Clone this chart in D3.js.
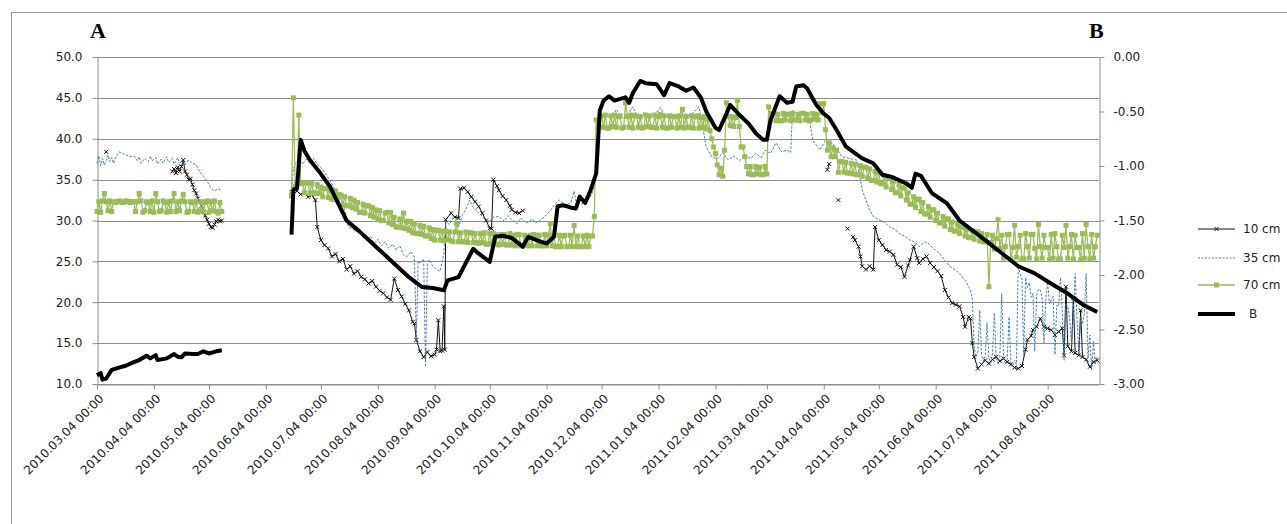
<!DOCTYPE html>
<html><head><meta charset="utf-8">
<script src="https://cdn.jsdelivr.net/npm/d3@7"></script>
<style>
html,body{margin:0;padding:0;background:#fff;}
svg{display:block;}
</style></head>
<body>
<svg id="chart" width="1287" height="524"></svg>
<script>
// ---------------- DATA ----------------
const leftTicks = [10,15,20,25,30,35,40,45,50];
const rightTicks = [-3,-2.5,-2,-1.5,-1,-0.5,0];
const xTickLabels = ["2010.03.04 00:00","2010.04.04 00:00","2010.05.04 00:00","2010.06.04 00:00","2010.07.04 00:00","2010.08.04 00:00","2010.09.04 00:00","2010.10.04 00:00","2010.11.04 00:00","2010.12.04 00:00","2011.01.04 00:00","2011.02.04 00:00","2011.03.04 00:00","2011.04.04 00:00","2011.05.04 00:00","2011.06.04 00:00","2011.07.04 00:00","2011.08.04 00:00"];
const seriesNames = ["10 cm","35 cm","70 cm","B"];

// 10 cm soil water content (%), [date, value]; null = gap
const cm10 = [
["2010-03-09",38.4],["2010-03-10",null],
["2010-04-14",36.0],["2010-04-15",36.3],["2010-04-16",35.8],["2010-04-17",36.5],["2010-04-18",36.0],["2010-04-19",36.6],["2010-04-20",37.4],["2010-04-21",36.0],["2010-04-22",35.6],["2010-04-23",35.0],["2010-04-24",35.1],["2010-04-25",34.4],["2010-04-26",33.7],["2010-04-27",33.3],["2010-04-28",32.7],["2010-04-29",32.3],["2010-04-30",31.8],["2010-05-01",31.1],["2010-05-02",30.6],["2010-05-03",30.1],["2010-05-04",29.6],["2010-05-05",29.2],["2010-05-06",29.1],["2010-05-07",29.5],["2010-05-08",29.9],["2010-05-09",30.1],["2010-05-10",29.9],["2010-05-11",30.0],["2010-05-12",null],
["2010-06-18",33.5],["2010-06-19",33.9],["2010-06-21",33.6],["2010-06-23",33.2],["2010-06-25",33.4],["2010-06-27",32.9],["2010-06-29",33.1],["2010-07-01",32.5],["2010-07-02",29.2],["2010-07-04",27.6],["2010-07-06",27.0],["2010-07-08",26.6],["2010-07-10",25.6],["2010-07-12",25.9],["2010-07-14",25.0],["2010-07-16",25.3],["2010-07-18",24.0],["2010-07-20",24.4],["2010-07-22",23.5],["2010-07-24",23.8],["2010-07-26",23.1],["2010-07-28",22.8],["2010-07-30",22.3],["2010-08-01",22.6],["2010-08-03",21.9],["2010-08-05",21.4],["2010-08-07",21.1],["2010-08-09",20.6],["2010-08-11",20.3],["2010-08-13",22.9],["2010-08-15",21.5],["2010-08-17",20.7],["2010-08-19",19.8],["2010-08-21",19.0],["2010-08-23",17.6],["2010-08-24",17.4],["2010-08-25",15.4],["2010-08-27",14.0],["2010-08-29",13.3],["2010-08-31",13.9],["2010-09-02",13.4],["2010-09-04",13.6],["2010-09-05",14.2],["2010-09-06",17.8],["2010-09-07",14.0],["2010-09-08",14.1],["2010-09-09",19.5],["2010-09-09 12:00",14.2],["2010-09-10",30.1],["2010-09-13",30.9],["2010-09-15",30.4],["2010-09-17",30.3],["2010-09-18",33.9],["2010-09-20",34.0],["2010-09-22",33.5],["2010-09-24",32.9],["2010-09-26",32.3],["2010-09-28",31.7],["2010-09-30",30.9],["2010-10-02",30.0],["2010-10-04",29.05],["2010-10-05",29.0],["2010-10-06",35.0],["2010-10-08",34.2],["2010-10-09",33.7],["2010-10-11",33.0],["2010-10-13",32.5],["2010-10-15",31.8],["2010-10-16",31.3],["2010-10-18",31.0],["2010-10-20",30.9],["2010-10-22",31.2],["2010-10-23",null],
["2011-04-06",36.2],["2011-04-07",36.9],["2011-04-08",null],["2011-04-12",32.5],["2011-04-13",null],["2011-04-17",29.0],["2011-04-18",null],
["2011-04-20",28.0],["2011-04-21",27.6],["2011-04-23",26.8],["2011-04-24",25.6],["2011-04-25",24.4],["2011-04-27",24.0],["2011-04-29",24.4],["2011-05-01",24.0],["2011-05-02",29.2],["2011-05-04",27.6],["2011-05-06",27.0],["2011-05-08",26.4],["2011-05-10",26.2],["2011-05-12",25.8],["2011-05-14",24.6],["2011-05-16",24.3],["2011-05-18",23.1],["2011-05-20",24.5],["2011-05-21",25.2],["2011-05-23",26.8],["2011-05-25",25.4],["2011-05-26",24.8],["2011-05-28",25.3],["2011-05-30",25.6],["2011-06-01",24.8],["2011-06-03",24.3],["2011-06-05",23.8],["2011-06-07",23.2],["2011-06-09",21.5],["2011-06-11",20.6],["2011-06-13",19.9],["2011-06-15",19.7],["2011-06-17",19.5],["2011-06-19",18.2],["2011-06-20",17.0],["2011-06-22",18.2],["2011-06-23",18.0],["2011-06-24",15.0],["2011-06-25",13.3],["2011-06-27",11.9],["2011-06-29",12.4],["2011-07-01",12.9],["2011-07-03",12.5],["2011-07-05",13.0],["2011-07-07",13.3],["2011-07-09",12.8],["2011-07-11",13.1],["2011-07-13",12.7],["2011-07-15",12.4],["2011-07-17",12.0],["2011-07-19",11.9],["2011-07-21",12.2],["2011-07-23",14.2],["2011-07-24",15.4],["2011-07-26",15.9],["2011-07-27",16.6],["2011-07-29",17.0],["2011-07-31",18.0],["2011-08-02",17.0],["2011-08-04",16.8],["2011-08-06",16.6],["2011-08-08",16.0],["2011-08-10",16.4],["2011-08-12",16.8],["2011-08-13",13.5],["2011-08-14",21.9],["2011-08-15",14.6],["2011-08-17",14.0],["2011-08-18",20.5],["2011-08-19",13.8],["2011-08-21",13.5],["2011-08-22",19.0],["2011-08-23",13.3],["2011-08-25",13.0],["2011-08-27",12.1],["2011-08-29",12.7],["2011-08-31",12.9]
];

// 35 cm, [date, value]
const cm35 = [
["2010-03-04",37.0],["2010-03-05",37.9],["2010-03-06",36.7],["2010-03-07",37.6],["2010-03-08",36.8],["2010-03-09",37.3],["2010-03-10",38.0],["2010-03-11",37.2],["2010-03-12",37.7],["2010-03-13",37.0],["2010-03-14",37.6],["2010-03-16",38.4],["2010-03-18",38.2],["2010-03-20",38.0],["2010-03-22",37.8],["2010-03-24",37.9],["2010-03-26",37.3],["2010-03-27",37.8],["2010-03-28",37.0],["2010-03-30",37.6],["2010-04-01",37.2],["2010-04-02",37.9],["2010-04-03",37.3],["2010-04-05",37.7],["2010-04-06",36.9],["2010-04-08",37.5],["2010-04-09",37.0],["2010-04-11",37.8],["2010-04-12",37.1],["2010-04-14",37.6],["2010-04-15",36.9],["2010-04-17",37.7],["2010-04-18",37.0],["2010-04-20",37.5],["2010-04-21",36.8],["2010-04-23",37.4],["2010-04-25",37.0],["2010-04-27",36.8],["2010-04-29",36.0],["2010-05-01",35.4],["2010-05-03",34.8],["2010-05-05",34.0],["2010-05-07",33.6],["2010-05-09",33.9],["2010-05-11",33.6],["2010-05-12",null],
["2010-06-18",34.0],["2010-06-19",36.2],["2010-06-20",37.0],["2010-06-22",37.4],["2010-06-24",36.9],["2010-06-26",37.5],["2010-06-28",37.0],["2010-06-30",37.6],["2010-07-02",36.9],["2010-07-04",36.5],["2010-07-06",35.9],["2010-07-08",35.2],["2010-07-10",34.5],["2010-07-12",33.6],["2010-07-14",32.9],["2010-07-16",32.1],["2010-07-18",30.2],["2010-07-19",29.2],["2010-07-21",29.0],["2010-07-23",28.6],["2010-07-25",28.9],["2010-07-27",27.9],["2010-07-29",27.6],["2010-07-31",28.1],["2010-08-02",27.2],["2010-08-04",27.7],["2010-08-06",26.9],["2010-08-08",27.4],["2010-08-10",26.6],["2010-08-12",27.1],["2010-08-14",26.4],["2010-08-16",26.9],["2010-08-18",25.8],["2010-08-20",25.6],["2010-08-22",26.2],["2010-08-24",25.5],["2010-08-25",15.4],["2010-08-26",25.0],["2010-08-27",24.8],["2010-08-29",25.3],["2010-08-30",12.1],["2010-08-31",24.6],["2010-09-01",25.2],["2010-09-03",24.4],["2010-09-05",24.0],["2010-09-07",23.8],["2010-09-08",24.9],["2010-09-09",26.0],["2010-09-10",29.9],["2010-09-12",29.5],["2010-09-14",30.3],["2010-09-16",29.9],["2010-09-17",29.2],["2010-09-19",30.6],["2010-09-21",31.4],["2010-09-23",32.5],["2010-09-25",31.6],["2010-09-28",30.9],["2010-10-01",30.3],["2010-10-04",29.9],["2010-10-06",30.4],["2010-10-09",30.5],["2010-10-12",29.9],["2010-10-14",30.6],["2010-10-16",30.1],["2010-10-19",29.6],["2010-10-21",30.3],["2010-10-24",29.65],["2010-10-27",30.2],["2010-10-29",29.7],["2010-10-31",29.9],["2010-11-03",30.5],["2010-11-06",31.2],["2010-11-09",32.1],["2010-11-11",32.5],["2010-11-14",31.9],["2010-11-17",32.1],["2010-11-19",33.6],["2010-11-20",32.3],["2010-11-23",32.0],["2010-11-25",32.2],["2010-11-27",32.6],["2010-11-29",33.4],["2010-12-01",35.8],["2010-12-03",42.7],["2010-12-06",43.1],["2010-12-09",42.4],["2010-12-12",43.6],["2010-12-15",42.5],["2010-12-18",42.9],["2010-12-21",43.9],["2010-12-24",42.6],["2010-12-27",43.2],["2010-12-30",42.4],["2011-01-02",43.0],["2011-01-05",43.8],["2011-01-08",42.7],["2011-01-11",43.1],["2011-01-14",42.5],["2011-01-17",43.5],["2011-01-20",42.8],["2011-01-23",43.2],["2011-01-26",43.9],["2011-01-28",41.5],["2011-01-30",39.0],["2011-02-02",37.8],["2011-02-05",37.5],["2011-02-08",38.3],["2011-02-11",37.4],["2011-02-14",37.9],["2011-02-17",37.3],["2011-02-20",38.0],["2011-02-23",37.6],["2011-02-26",38.2],["2011-03-01",37.7],["2011-03-03",38.6],["2011-03-06",38.2],["2011-03-09",39.5],["2011-03-12",38.4],["2011-03-15",38.6],["2011-03-17",38.3],["2011-03-18",43.5],["2011-03-21",43.0],["2011-03-24",43.3],["2011-03-27",42.8],["2011-03-29",39.8],["2011-04-02",38.6],["2011-04-05",39.85],["2011-04-09",39.4],["2011-04-14",37.8],["2011-04-18",37.6],["2011-04-22",37.4],["2011-04-25",33.7],["2011-04-29",31.3],["2011-05-01",30.5],["2011-05-04",30.1],["2011-05-07",29.8],["2011-05-10",29.2],["2011-05-13",28.9],["2011-05-15",28.4],["2011-05-18",28.1],["2011-05-21",27.6],["2011-05-24",27.3],["2011-05-26",26.8],["2011-05-29",27.4],["2011-05-31",27.2],["2011-06-03",26.5],["2011-06-06",26.0],["2011-06-09",25.1],["2011-06-12",24.35],["2011-06-15",23.9],["2011-06-17",23.5],["2011-06-20",22.7],["2011-06-23",21.5],["2011-06-24",20.3],["2011-06-25",14.5],["2011-06-26",13.3],["2011-06-27",13.9],["2011-06-28",19.0],["2011-06-29",13.6],["2011-06-30",12.8],["2011-07-01",13.5],["2011-07-02",17.5],["2011-07-03",13.2],["2011-07-04",12.6],["2011-07-05",13.8],["2011-07-06",18.7],["2011-07-07",13.1],["2011-07-08",12.5],["2011-07-09",13.4],["2011-07-10",21.1],["2011-07-11",13.3],["2011-07-12",12.4],["2011-07-13",13.0],["2011-07-14",18.2],["2011-07-15",12.6],["2011-07-16",12.3],["2011-07-17",12.9],["2011-07-18",12.4],["2011-07-19",24.4],["2011-07-20",23.5],["2011-07-21",22.8],["2011-07-22",13.5],["2011-07-23",23.0],["2011-07-24",21.8],["2011-07-25",22.4],["2011-07-26",20.6],["2011-07-27",21.1],["2011-07-28",14.0],["2011-07-29",20.8],["2011-07-30",21.6],["2011-07-31",21.5],["2011-08-01",20.6],["2011-08-02",15.0],["2011-08-03",20.3],["2011-08-04",22.5],["2011-08-05",19.8],["2011-08-06",20.3],["2011-08-07",20.7],["2011-08-08",13.6],["2011-08-09",19.6],["2011-08-10",19.5],["2011-08-11",23.0],["2011-08-12",18.8],["2011-08-13",12.9],["2011-08-14",19.9],["2011-08-15",19.5],["2011-08-16",18.0],["2011-08-17",14.8],["2011-08-18",18.5],["2011-08-19",23.5],["2011-08-20",17.9],["2011-08-21",14.0],["2011-08-22",18.2],["2011-08-23",17.4],["2011-08-24",18.6],["2011-08-25",23.5],["2011-08-26",13.2],["2011-08-27",16.0],["2011-08-28",11.7],["2011-08-29",15.2],["2011-08-30",12.5],["2011-08-31",13.3]
];

// 70 cm: daily readings, each block = [first date, consecutive daily values]; null = gap
const cm70 = [
["2010-03-04",[31.1,32.3,31.0,32.4,33.3,32.3,31.2,32.4,31.1,32.3,32.2, 32.3,32.4,32.3,32.2,32.3,32.4,32.3,32.2,32.3,32.3, 31.1,32.3,33.3,32.4,31.0,31.2,32.3,32.2,31.1,32.4, 31.0,33.3,32.3,31.1,31.2,32.4,32.2,31.0,32.3,31.1, 32.4,33.3,31.1,32.3,31.2,32.4,33.2,32.3,31.0,31.1, 32.3,32.2,31.1,32.4,31.0,31.2,32.3,31.1,32.2,32.4, 31.0,32.3,31.2,32.4,31.1,30.9,32.2,31.1,null]],
["2010-06-18",[33.0,45.0,34.2,34.6,42.9,34.5]],
["2010-06-24",[34.6,33.4,34.6,34.6,33.3,34.5,33.4,33.3,34.4,33.3]],
["2010-07-04",[34.1,32.9,33.9,33.9,32.8,33.7,32.6,32.6,33.6,32.5]],
["2010-07-14",[33.2,33.1,31.9,32.9,31.8,31.8,32.7,31.6,32.5,31.4]],
["2010-07-24",[32.2,31.0,31.0,32.0,30.9,31.8,31.8,30.6,31.6,30.4]],
["2010-08-03",[31.3,30.1,31.2,30.0,30.0,30.9,31.0,29.7,31.0,29.5]],
["2010-08-13",[30.4,29.2,29.2,30.2,29.1,30.9,29.0,29.9,28.8,29.9]],
["2010-08-23",[28.5,29.6,28.4,28.4,29.4,28.3,29.3,28.1,28.1,29.1]],
["2010-09-02",[27.8,28.9,27.6,28.8,28.8,27.6,28.7,27.5,28.7,27.6]],
["2010-09-12",[28.6,27.5,27.4,28.6,29.6,27.4,28.5,27.4,27.4,28.6]],
["2010-09-22",[27.3,28.5,28.5,27.3,28.4,27.3,27.2,28.4,27.3,28.5]],
["2010-10-02",[27.1,27.1,28.4,27.2,28.4,28.3,27.1,27.0,28.3,27.1]],
["2010-10-12",[28.3,27.0,27.0,28.4,27.0,28.2,26.9,28.3,28.3,26.9]],
["2010-10-22",[26.9,28.2,27.0,26.9,28.2,26.9,28.3,28.2,26.9,28.2]],
["2010-11-01",[26.9,26.9,28.3,26.9,28.2,29.6,26.9,28.2,26.8,26.8]],
["2010-11-11",[28.2,26.8,28.1,28.2,26.8,26.8,28.2,26.8,29.4,26.8]],
["2010-11-21",[28.1,26.8,26.8,28.1,26.8,28.2,26.8,28.1,28.1,30.5]],
["2010-12-01",[42.3,41.4,42.8,42.8,41.4,42.9,41.3,41.3,42.8,41.5]],
["2010-12-11",[42.9,41.4,42.7,42.8,41.3,41.4,44.4,42.7,41.4,42.9]],
["2010-12-21",[41.3,42.8,42.8,41.4,42.7,41.3,41.4,42.9,41.5,42.8]],
["2010-12-31",[41.4,41.4,42.9,41.3,42.7,43.0,41.4,42.8,41.3,41.3]],
["2011-01-10",[42.8,41.4,42.7,42.7,41.3,42.8,41.4,43.6,41.3,42.7]],
["2011-01-20",[41.4,41.4,42.8,41.3,42.7,42.8,41.3,42.6,41.4,42.7]],
["2011-01-30",[41.2,42.4,41.0,40.0,39.0,38.2,36.8,35.6,36.4,35.4,38.6,44.4,42.7]],
["2011-02-12",[41.6,42.7,41.5,42.6,44.7,41.5,39.0]],
["2011-02-19",[39.0,37.8,36.6,35.7,36.6,35.6,35.6,36.6,35.7,36.5,35.6,35.6,36.6,35.7]],
["2011-03-05",[43.9,42.3,43.1,43.1,42.2,43.0,42.2,42.2,43.1,42.3,43.0,43.0,42.2,43.1,42.3,42.3,43.0,42.2,43.1,43.1,42.3,43.0,42.2,42.3,43.1,42.4,43.0,42.3]],
["2011-04-02",[44.3,43.2,44.3,41.1,38.6,39.5,37.8,38.9,37.8,38.6]],
["2011-04-12",[35.9,37.2,37.2,35.9,37.1,35.8,35.8,37.0,35.7,36.9]],
["2011-04-22",[35.6,35.6,36.7,35.4,36.5,36.5,35.2,36.3,34.9,34.9]],
["2011-05-02",[36.0,34.7,35.8,34.5,34.5,35.5,34.1,35.2,35.2,33.8]],
["2011-05-12",[34.8,33.4,33.4,34.4,33.0,34.0,34.0,32.5,33.4,32.0]],
["2011-05-22",[32.0,32.9,31.6,32.6,32.6,31.1,32.2,30.8,30.8,31.7]],
["2011-06-01",[30.4,31.3,31.3,30.0,30.9,29.7,29.7,30.5,29.3,30.2]],
["2011-06-11",[30.2,28.9,29.8,28.7,28.7,29.5,28.4,29.2,29.2,28.1]],
["2011-06-21",[28.9,27.9,27.9,28.7,27.7,28.6,28.6,27.5,28.4,27.4]],
["2011-07-01",[27.4,28.3,21.9,27.3,28.2,26.5,27.8,30.1]],
["2011-07-09",[26.6,28.2,25.4,26.8,28.3,28.3,25.3,26.7,29.4,25.5]],
["2011-07-19",[26.8,28.2,25.3,25.3,28.4,26.8,25.4,28.3,28.3,26.6]],
["2011-07-29",[25.3,29.5,26.8,25.4,28.2,26.7,26.7,25.2,28.3,25.4]],
["2011-08-08",[28.4,26.8,25.3,25.3,28.2,26.7,29.4,25.4,26.8,28.3]],
["2011-08-18",[25.3,28.2,26.7,26.7,25.2,28.4,25.4,29.5,26.8,25.3]],
["2011-08-28",[28.3,25.4,26.8,28.2]]
];

// B (right axis), [date, value]
const seriesB = [
["2010-03-04",-2.92],["2010-03-06",-2.90],["2010-03-07",-2.96],["2010-03-09",-2.95],["2010-03-12",-2.87],["2010-03-14",-2.86],["2010-03-16",-2.85],["2010-03-20",-2.83],["2010-03-24",-2.80],["2010-03-27",-2.78],["2010-03-31",-2.74],["2010-04-02",-2.765],["2010-04-05",-2.735],["2010-04-06",-2.78],["2010-04-11",-2.765],["2010-04-15",-2.725],["2010-04-17",-2.75],["2010-04-19",-2.755],["2010-04-21",-2.72],["2010-04-25",-2.725],["2010-04-28",-2.725],["2010-05-01",-2.70],["2010-05-04",-2.72],["2010-05-08",-2.70],["2010-05-11",-2.69],["2010-05-12",null],
["2010-06-18",-1.63],["2010-06-19",-1.22],["2010-06-21",-1.20],["2010-06-23",-0.76],["2010-06-25",-0.86],["2010-06-28",-0.945],["2010-07-03",-1.05],["2010-07-09",-1.19],["2010-07-13",-1.33],["2010-07-18",-1.50],["2010-07-25",-1.60],["2010-08-03",-1.74],["2010-08-12",-1.88],["2010-08-21",-2.02],["2010-08-28",-2.11],["2010-09-03",-2.12],["2010-09-09",-2.14],["2010-09-11",-2.05],["2010-09-17",-2.02],["2010-09-20",-1.92],["2010-09-25",-1.76],["2010-09-27",-1.79],["2010-10-04",-1.88],["2010-10-07",-1.65],["2010-10-11",-1.64],["2010-10-16",-1.66],["2010-10-22",-1.74],["2010-10-25",-1.65],["2010-10-31",-1.69],["2010-11-04",-1.71],["2010-11-08",-1.65],["2010-11-10",-1.37],["2010-11-13",-1.36],["2010-11-17",-1.38],["2010-11-20",-1.39],["2010-11-22",-1.28],["2010-11-25",-1.34],["2010-11-28",-1.22],["2010-12-01",-1.07],["2010-12-03",-0.49],["2010-12-05",-0.40],["2010-12-08",-0.36],["2010-12-11",-0.40],["2010-12-15",-0.38],["2010-12-17",-0.37],["2010-12-19",-0.42],["2010-12-21",-0.33],["2010-12-25",-0.22],["2010-12-28",-0.24],["2011-01-03",-0.25],["2011-01-07",-0.35],["2011-01-10",-0.24],["2011-01-15",-0.27],["2011-01-19",-0.31],["2011-01-23",-0.28],["2011-01-27",-0.37],["2011-01-30",-0.50],["2011-02-04",-0.65],["2011-02-06",-0.67],["2011-02-10",-0.52],["2011-02-12",-0.44],["2011-02-17",-0.53],["2011-02-22",-0.61],["2011-02-26",-0.70],["2011-03-02",-0.76],["2011-03-04",-0.76],["2011-03-06",-0.58],["2011-03-11",-0.36],["2011-03-15",-0.42],["2011-03-18",-0.41],["2011-03-20",-0.27],["2011-03-24",-0.26],["2011-03-26",-0.29],["2011-03-31",-0.44],["2011-04-04",-0.52],["2011-04-07",-0.56],["2011-04-11",-0.67],["2011-04-16",-0.82],["2011-04-20",-0.87],["2011-04-25",-0.93],["2011-05-01",-0.975],["2011-05-06",-1.08],["2011-05-11",-1.10],["2011-05-19",-1.16],["2011-05-22",-1.20],["2011-05-24",-1.07],["2011-05-27",-1.09],["2011-06-02",-1.25],["2011-06-10",-1.34],["2011-06-17",-1.50],["2011-06-24",-1.59],["2011-07-01",-1.68],["2011-07-10",-1.80],["2011-07-19",-1.92],["2011-07-28",-1.985],["2011-08-06",-2.08],["2011-08-15",-2.17],["2011-08-24",-2.28],["2011-08-31",-2.34]
];

// ---------------- CHART ----------------
const svg = d3.select("#chart");
const W = 1287, H = 524;
const M = {left: 97, right: 1099, top: 57, bottom: 384};
const FONT = "DejaVu Sans, Verdana, sans-serif";
const GRID = "#8f8f8f";

svg.append("rect").attr("width", W).attr("height", H).attr("fill", "#fff");
svg.append("rect").attr("x", 11.5).attr("y", 12.5).attr("width", 1300).attr("height", 600)
  .attr("fill", "none").attr("stroke", "#9a9a9a").attr("stroke-width", 1);

const pDay = d3.timeParse("%Y-%m-%d"), pTime = d3.timeParse("%Y-%m-%d %H:%M"), pTick = d3.timeParse("%Y.%m.%d %H:%M");
const toDate = s => s.length > 10 ? pTime(s) : pDay(s);

// expand daily blocks of the 70 cm series into [date, value] points
const cm70Points = cm70.flatMap(([start, vals]) => {
  const d0 = pDay(start);
  return vals.map((v, i) => [d3.timeDay.offset(d0, i), v]);
});

const x = d3.scaleTime().domain([pDay("2010-03-04"), pDay("2011-09-01")]).range([M.left, M.right]);
const yL = d3.scaleLinear().domain([10, 50]).range([M.bottom, M.top]);
const yR = d3.scaleLinear().domain([-3, 0]).range([M.bottom, M.top]);

// gridlines
svg.append("g").selectAll("line").data(leftTicks).join("line")
  .attr("x1", M.left).attr("x2", M.right)
  .attr("y1", d => Math.round(yL(d)) + 0.5).attr("y2", d => Math.round(yL(d)) + 0.5)
  .attr("stroke", GRID).attr("stroke-width", 1);

// axes
function styleAxis(g){
  g.selectAll(".domain").attr("stroke", GRID);
  g.selectAll(".tick line").attr("stroke", GRID);
  g.selectAll("text").attr("fill", "#222").attr("font-family", FONT).attr("font-size", 12);
}
const gL = svg.append("g").attr("transform", `translate(${M.left + 0.5},0)`)
  .call(d3.axisLeft(yL).tickValues(leftTicks).tickFormat(d => d.toFixed(1)).tickSize(5).tickPadding(10).tickSizeOuter(0));
styleAxis(gL);
const gR = svg.append("g").attr("transform", `translate(${M.right + 0.5},0)`)
  .call(d3.axisRight(yR).tickValues(rightTicks).tickFormat(d => d.toFixed(2)).tickSize(5).tickPadding(9).tickSizeOuter(0));
styleAxis(gR);
const xTicks = xTickLabels.map(pTick);
const gX = svg.append("g").attr("transform", `translate(0,${M.bottom + 0.5})`)
  .call(d3.axisBottom(x).tickValues(xTicks).tickFormat((d, i) => xTickLabels[i]).tickSize(5).tickSizeOuter(0));
styleAxis(gX);
gX.selectAll(".tick text")
  .attr("text-anchor", "end").attr("dy", "0.35em").attr("y", 0)
  .attr("transform", "translate(4,12) rotate(-45)");

// series
const defined = d => d[1] != null;
const getX = d => x(typeof d[0] === "string" ? toDate(d[0]) : d[0]);
function path(data, yScale){
  return d3.line().defined(defined).x(getX).y(d => yScale(d[1]))(data);
}
const plot = svg.append("g");

// 10 cm
plot.append("path").attr("d", path(cm10, yL)).attr("fill", "none").attr("stroke", "#111").attr("stroke-width", 1);
plot.append("g").selectAll("path").data(cm10.filter(defined)).join("path")
  .attr("transform", d => `translate(${getX(d)},${yL(d[1])})`)
  .attr("d", "M-2,-2L2,2M-2,2L2,-2").attr("stroke", "#111").attr("stroke-width", 1).attr("fill", "none");

// 35 cm
plot.append("path").attr("d", path(cm35, yL)).attr("fill", "none").attr("stroke", "#4a7ebb")
  .attr("stroke-width", 1).attr("stroke-dasharray", "2.5,1.5");

// 70 cm
plot.append("path").attr("d", path(cm70Points, yL)).attr("fill", "none").attr("stroke", "#9bbb59").attr("stroke-width", 1.25);
plot.append("g").selectAll("rect").data(cm70Points.filter(defined)).join("rect")
  .attr("x", d => getX(d) - 2.5).attr("y", d => yL(d[1]) - 2.5)
  .attr("width", 5).attr("height", 5).attr("fill", "#9bbb59");

// B
plot.append("path").attr("d", path(seriesB, yR)).attr("fill", "none").attr("stroke", "#000")
  .attr("stroke-width", 4).attr("stroke-linejoin", "round");

// panel letters
svg.append("text").attr("x", 90).attr("y", 37.5).text("A")
  .attr("font-family", "Liberation Serif, Times New Roman, serif").attr("font-weight", "bold").attr("font-size", 22);
svg.append("text").attr("x", 1089).attr("y", 38).text("B")
  .attr("font-family", "Liberation Serif, Times New Roman, serif").attr("font-weight", "bold").attr("font-size", 22);

// legend
const legY = [229, 258, 285, 314];
const lg = svg.append("g");
seriesNames.forEach((name, i) => {
  const y = legY[i];
  const l = lg.append("line").attr("x1", 1198).attr("x2", 1235).attr("y1", y).attr("y2", y);
  if (i === 0) {
    l.attr("stroke", "#111").attr("stroke-width", 1);
    lg.append("path").attr("transform", `translate(1216.5,${y})`).attr("d", "M-2,-2L2,2M-2,2L2,-2").attr("stroke", "#111");
  } else if (i === 1) {
    l.attr("stroke", "#4a7ebb").attr("stroke-width", 1).attr("stroke-dasharray", "2,1.5");
  } else if (i === 2) {
    l.attr("stroke", "#9bbb59").attr("stroke-width", 1.5);
    lg.append("rect").attr("x", 1214).attr("y", y - 2.5).attr("width", 5).attr("height", 5).attr("fill", "#9bbb59");
  } else {
    l.attr("stroke", "#000").attr("stroke-width", 4);
  }
  lg.append("text").attr("x", i === 3 ? 1249 : 1243).attr("y", y).attr("dy", "0.35em").text(name)
    .attr("font-family", FONT).attr("font-size", 12).attr("fill", "#222");
});
</script>
</body></html>
